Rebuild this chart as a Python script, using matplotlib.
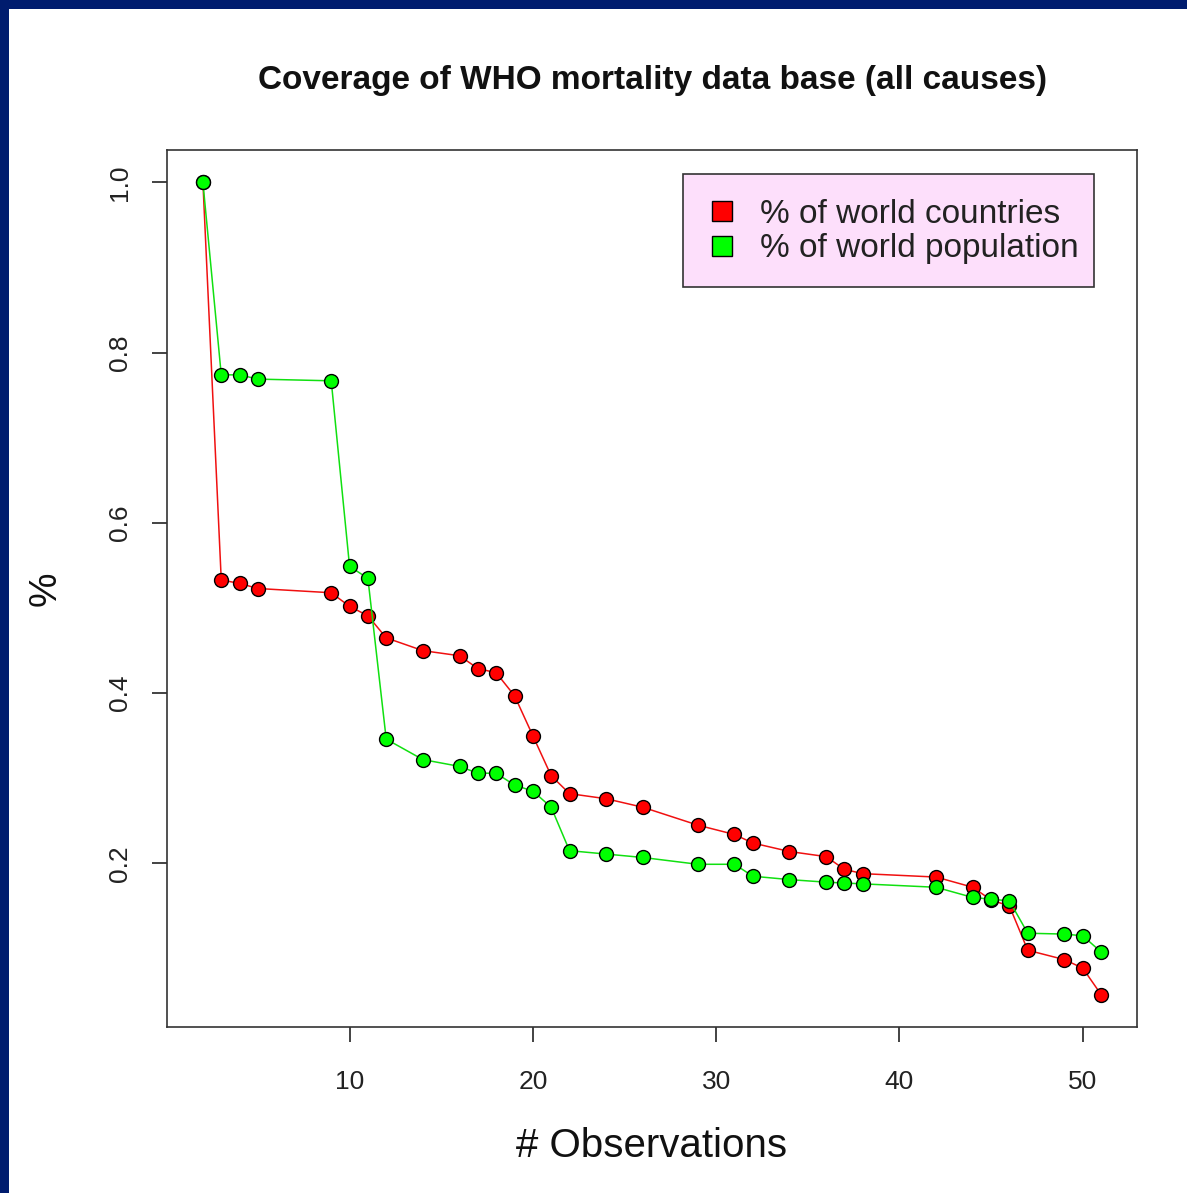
import matplotlib
matplotlib.use("Agg")
import matplotlib.pyplot as plt
from matplotlib.lines import Line2D
from matplotlib.patches import Rectangle

plt.rcParams['font.family'] = ['Liberation Sans', 'DejaVu Sans']

observations = [2, 3, 4, 5, 9, 10, 11, 12, 14, 16, 17, 18, 19, 20, 21, 22, 24, 26,
                29, 31, 32, 34, 36, 37, 38, 42, 44, 45, 46, 47, 49, 50, 51]
pct_countries = [1.0, 0.533, 0.529, 0.523, 0.518, 0.502, 0.491, 0.465, 0.450, 0.444,
                 0.429, 0.424, 0.397, 0.350, 0.303, 0.282, 0.276, 0.266, 0.245, 0.234,
                 0.224, 0.214, 0.208, 0.193, 0.188, 0.184, 0.172, 0.157, 0.150, 0.098,
                 0.087, 0.077, 0.046]
pct_population = [1.0, 0.774, 0.774, 0.769, 0.767, 0.549, 0.535, 0.346, 0.322, 0.314,
                  0.306, 0.306, 0.292, 0.285, 0.266, 0.215, 0.211, 0.207, 0.199, 0.199,
                  0.185, 0.181, 0.178, 0.177, 0.176, 0.172, 0.160, 0.158, 0.156, 0.118,
                  0.117, 0.115, 0.096]
labels = ["% of world countries", "% of world population"]
x_ticks = [10, 20, 30, 40, 50]
y_ticks = [0.2, 0.4, 0.6, 0.8, 1.0]

W, H = 1187, 1193
fig = plt.figure(figsize=(W / 100, H / 100), dpi=100)
fig.patch.set_facecolor('white')

# navy frame on top and left
navy = '#001C6E'
fig.add_artist(Rectangle((0, 1 - 9 / H), 1, 9 / H, transform=fig.transFigure,
                         facecolor=navy, edgecolor='none', zorder=0))
fig.add_artist(Rectangle((0, 0), 9 / W, 1, transform=fig.transFigure,
                         facecolor=navy, edgecolor='none', zorder=0))

left, right, top, bottom = 167, 1137, 150, 1027
ax = fig.add_axes([left / W, 1 - bottom / H, (right - left) / W, (bottom - top) / H])
aw, ah = right - left, bottom - top

ax.plot(observations, pct_countries, color='#F01010', lw=1.1, marker='o', ms=10,
        mfc='#FF0000', mec='black', mew=1.0, zorder=3)
ax.plot(observations, pct_population, color='#10E010', lw=1.1, marker='o', ms=10,
        mfc='#00FF00', mec='black', mew=1.0, zorder=4)

xmin, xmax = min(observations), max(observations)
ymin = min(min(pct_countries), min(pct_population))
ymax = max(max(pct_countries), max(pct_population))
dx = (xmax - xmin) * 0.04
dy = (ymax - ymin) * 0.04
ax.set_xlim(xmin - dx, xmax + dx)
ax.set_ylim(ymin - dy, ymax + dy)

ax.set_xticks(x_ticks)
ax.set_yticks(y_ticks)
ax.set_xticklabels([str(t) for t in x_ticks])
ax.set_yticklabels([f"{t:.1f}" for t in y_ticks], rotation=90, va='center')
ax.tick_params(direction='out', length=11, width=1.2, labelsize=19,
               colors='#222222', labelcolor='#222222')
ax.tick_params(axis='x', pad=20)
ax.tick_params(axis='y', pad=14)
for s in ax.spines.values():
    s.set_linewidth(1.2)
    s.set_color('#333333')

ax.set_xlabel("# Observations", fontsize=29, labelpad=24, color='#111111')
ax.set_ylabel("%", fontsize=28, labelpad=32, color='#111111')
fig.text(652 / W, 1 - 81 / H, "Coverage of WHO mortality data base (all causes)",
         ha='center', va='center', fontsize=24, fontweight='bold', color='#111111')

# legend frame
lx0, ly0, lx1, ly1 = 683, 174, 1094, 287
ax.add_patch(Rectangle(((lx0 - left) / aw, (bottom - ly1) / ah), (lx1 - lx0) / aw, (ly1 - ly0) / ah,
                       transform=ax.transAxes, facecolor='#FDDFFB', edgecolor='#333333',
                       lw=1.2, zorder=4.5, clip_on=False))

handles = [Line2D([], [], linestyle='none', marker='s', ms=15, mfc='#FF0000', mec='black', mew=1.0),
           Line2D([], [], linestyle='none', marker='s', ms=15, mfc='#00FF00', mec='black', mew=1.0)]
leg = ax.legend(handles, labels, loc='upper left',
                bbox_to_anchor=((705.5 - left) / aw, (bottom - 199) / ah),
                fontsize=24, frameon=False, borderpad=0,
                handletextpad=0.62, labelspacing=0.1, handlelength=1.0,
                borderaxespad=0)
leg.set_zorder(6)
for t in leg.get_texts():
    t.set_color('#222222')

fig.savefig("out.png", dpi=100, facecolor=fig.get_facecolor())
